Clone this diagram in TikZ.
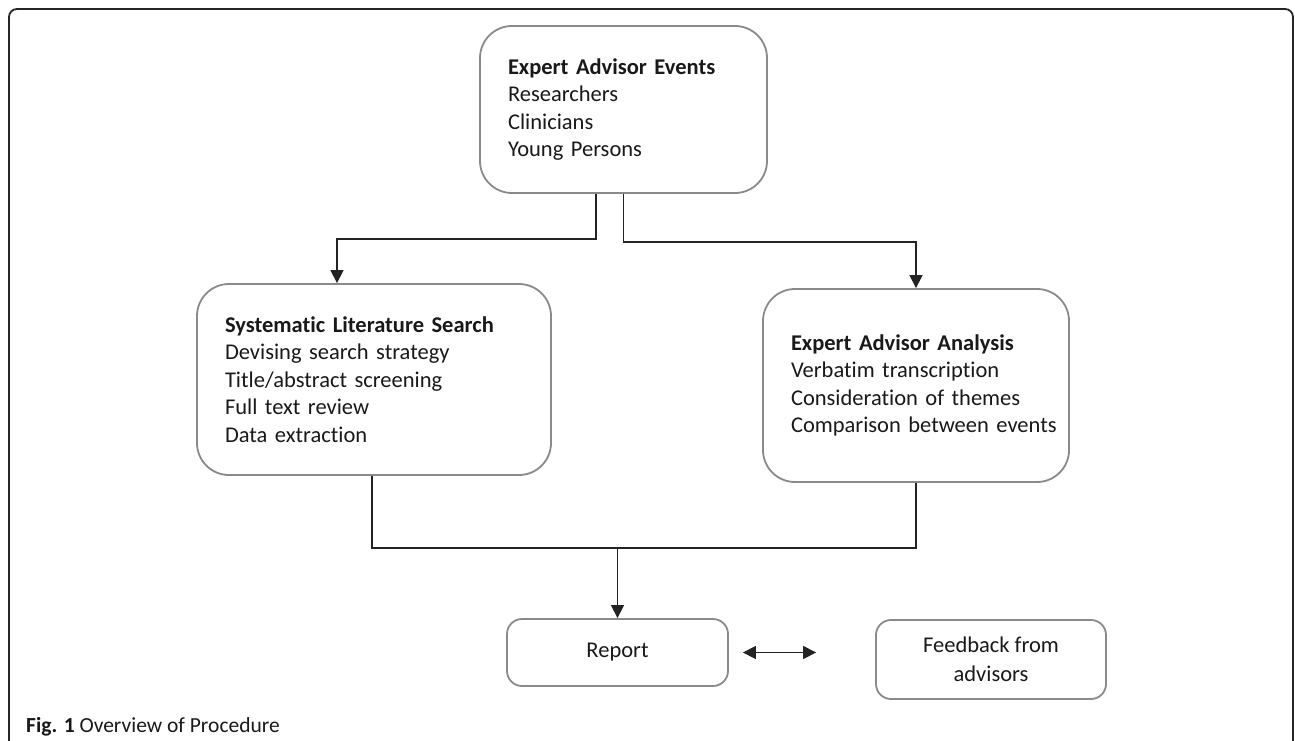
\documentclass[tikz,border=0pt]{standalone}
\usepackage{fontspec}
\setmainfont{Carlito}[Ligatures=NoCommon]
\usetikzlibrary{arrows.meta}
\definecolor{boxgray}{RGB}{138,138,138}
\definecolor{linecol}{RGB}{35,35,35}
\definecolor{txtcol}{RGB}{25,25,25}
\tikzset{
  bigbox/.style={draw=boxgray, line width=1.8pt, rounded corners=32pt, align=left,
    inner xsep=28pt, inner ysep=0pt, text=txtcol,
    font=\fontsize{22.5}{27.4}\selectfont},
  smallbox/.style={draw=boxgray, line width=1.8pt, rounded corners=15pt, align=center,
    inner sep=0pt, text=txtcol, font=\fontsize{22.5}{29}\selectfont},
  conn/.style={draw=linecol, line width=1.3pt},
  arr/.style={conn, -{Triangle[length=13pt,width=13pt]}},
  darr/.style={conn, {Triangle[length=13pt,width=13pt]}-{Triangle[length=13pt,width=13pt]}},
  frame/.style={draw=black!85, line width=1.8pt, rounded corners=8pt},
  caption/.style={anchor=west, inner sep=0pt, text=txtcol, font=\fontsize{21.5}{24}\selectfont}
}
\begin{document}
\begin{tikzpicture}[x=1pt,y=-1pt]
\useasboundingbox (0,0) rectangle (1295,741);
\draw[frame] (9,9) rectangle (1293,765);

\node[bigbox, text width=231pt, minimum height=167pt] (ev) at (623.5,109.5)
  {\mbox{\textbf{Expert Advisor Events}}\\Researchers\\Clinicians\\Young Persons};
\node[bigbox, text width=298pt, minimum height=191pt] (sls) at (374,379.5)
  {\mbox{\textbf{Systematic Literature Search}}\\\mbox{Devising search strategy}\\\mbox{Title/abstract screening}\\Full text review\\Data extraction};
\node[bigbox, text width=250pt, minimum height=193pt] (eaa) at (916,385.5)
  {\mbox{\textbf{Expert Advisor Analysis}}\\\mbox{Verbatim transcription}\\\mbox{Consideration of themes}\\\mbox{Comparison between events}};
\node[smallbox, minimum width=221pt, minimum height=67pt] (rep) at (617.5,652.5) {Report};
\node[smallbox, minimum width=230pt, minimum height=79pt] (fb) at (991,659.5) {Feedback from\\advisors};

\draw[arr] ([xshift=-27.5pt]ev.south) -- ++(0,45) -| ([xshift=-37pt]sls.north);
\draw[arr] (ev.south) -- ++(0,48) -| (eaa.north);

\coordinate (j) at (617.5,548);
\draw[conn] ([xshift=-2pt]sls.south) |- (j);
\draw[conn] (eaa.south) |- (j);
\draw[arr] (j) -- (rep.north);

\draw[darr] ([xshift=14pt]rep.east) -- ([xshift=-59pt]fb.west |- rep.east);

\node[caption] (cap) at (26,727) {\textbf{Fig. 1} Overview of Procedure};
\end{tikzpicture}
\end{document}
